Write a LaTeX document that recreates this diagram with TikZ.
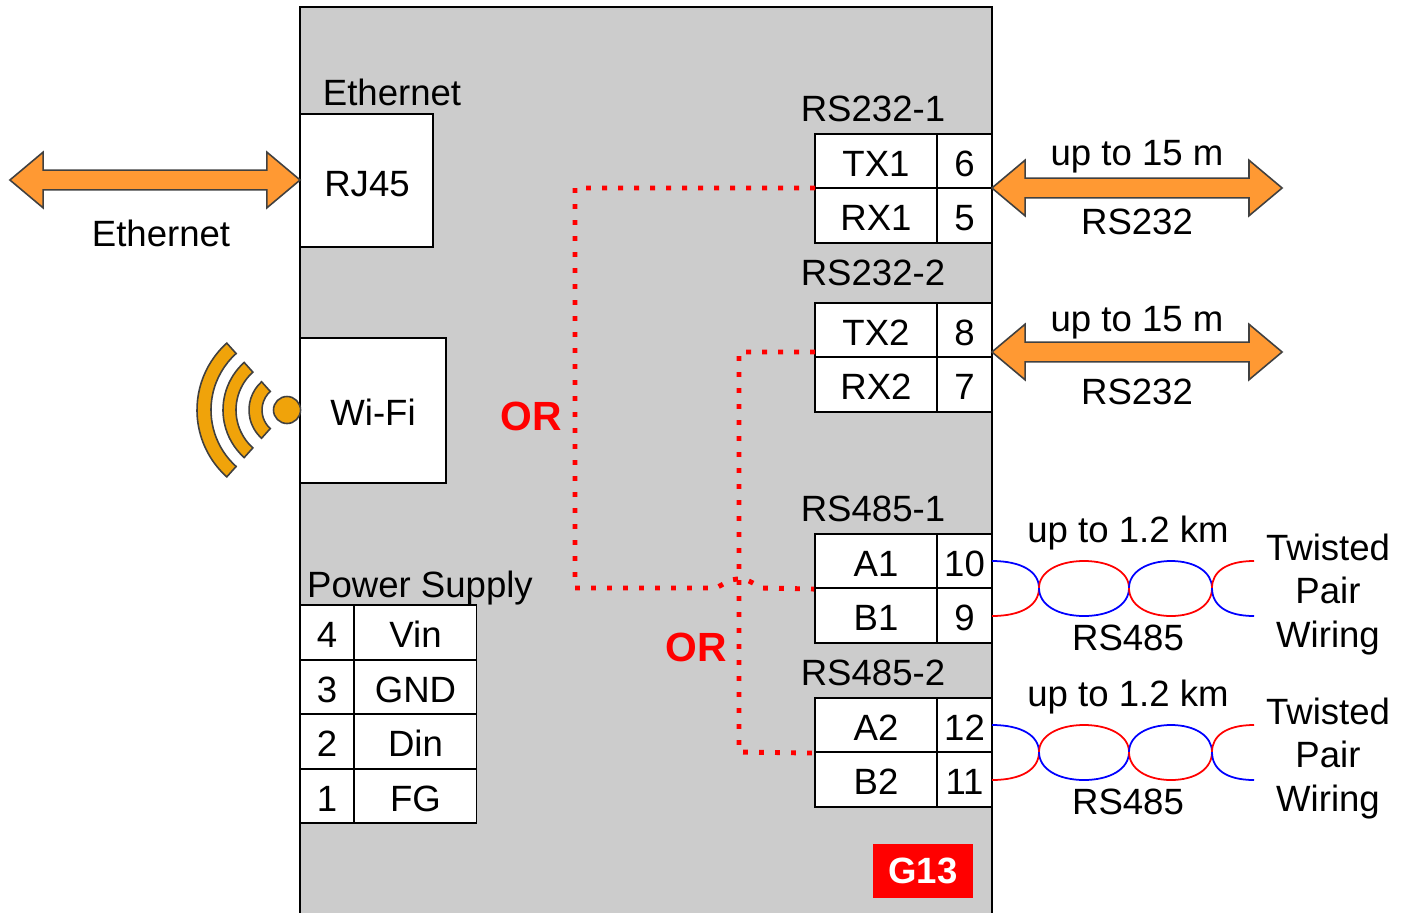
\documentclass[tikz,border=0pt]{standalone}
\usepackage{fontspec}
\setmainfont{Liberation Sans}
\usetikzlibrary{shapes.arrows}
\definecolor{panelgray}{HTML}{CCCCCC}
\definecolor{arroworange}{HTML}{FF9933}
\definecolor{wifiorange}{HTML}{F0A30A}

\begin{document}
\begin{tikzpicture}[x=0.01cm,y=-0.01cm,font=\fontsize{10.4}{12.5}\selectfont,line width=0.45pt]
    \tikzset{
      box/.style={draw, fill=white, inner sep=0pt, text height=0.30cm, text depth=0cm},
      wide/.style={box, minimum width=1.22cm, minimum height=0.545cm},
      narrow/.style={box, minimum width=0.55cm, minimum height=0.545cm},
      lbl/.style={inner sep=0pt, text height=0.26cm, text depth=0cm},
      wiring/.style={inner sep=0pt, align=center},
      orlabel/.style={inner sep=0pt, text=red, font=\fontsize{11.6}{14}\selectfont\bfseries},
      orline/.style={red, line width=1.4pt, dash pattern=on 1.4pt off 3.15pt},
      bigarrow/.style={
        draw=black!75, fill=arroworange, shape=double arrow, inner xsep=0pt, inner ysep=0.09cm,
        minimum height=2.9cm, minimum width=0.54cm, double arrow head extend=0.18cm,
        double arrow tip angle=80, double arrow head indent=0cm
      }
    }
    \clip (0,0) rectangle (1406,912);
    % Main panel
    \node[draw, line width=0.55pt, fill=panelgray, minimum width=6.92cm, minimum height=9.2cm] (panel) at (646,467) {};

    % Left column
    \node[box, minimum width=1.33cm, minimum height=1.33cm] (rj45) at (366.5,180.5) {};
    \node[lbl] (rj45text) at (367,183) {RJ45};
    \node[box, minimum width=1.46cm, minimum height=1.45cm] (wifi) at (373,410.5) {};
    \node[lbl] (wifitext) at (373,412) {Wi-Fi};
    \node[lbl] (ethtop)   at (392,92)  {Ethernet};
    \node[lbl] (ethbot)   at (161,233) {Ethernet};
    \node[lbl] (power)    at (420,584) {Power Supply};

    % Power connector
    \node[box, minimum width=0.54cm, minimum height=0.545cm] (pin4) at (327,632.5) {4};
    \node[box, minimum width=1.22cm, minimum height=0.545cm] (vin)  at (415.5,632.5) {Vin};
    \node[box, minimum width=0.54cm, minimum height=0.545cm] (pin3) at (327,687)   {3};
    \node[box, minimum width=1.22cm, minimum height=0.545cm] (gnd)  at (415.5,687)   {GND};
    \node[box, minimum width=0.54cm, minimum height=0.545cm] (pin2) at (327,741.5) {2};
    \node[box, minimum width=1.22cm, minimum height=0.545cm] (din)  at (415.5,741.5) {Din};
    \node[box, minimum width=0.54cm, minimum height=0.545cm] (pin1) at (327,796)   {1};
    \node[box, minimum width=1.22cm, minimum height=0.545cm] (fg)   at (415.5,796)   {FG};

    % Right column
    \node[lbl] (rs1) at (873,108) {RS232-1};
    \node[wide]   (tx1)  at (876,161)   {TX1};
    \node[narrow] (pin6) at (964.5,161) {6};
    \node[wide]   (rx1)  at (876,215.5)   {RX1};
    \node[narrow] (pin5) at (964.5,215.5) {5};

    \node[lbl] (rs2) at (873,272) {RS232-2};
    \node[wide]   (tx2)  at (876,330)   {TX2};
    \node[narrow] (pin8) at (964.5,330) {8};
    \node[wide]   (rx2)  at (876,384.5)   {RX2};
    \node[narrow] (pin7) at (964.5,384.5) {7};

    \node[lbl] (rs3) at (873,508) {RS485-1};
    \node[wide]   (a1)    at (876,561)   {A1};
    \node[narrow] (pin10) at (964.5,561) {10};
    \node[wide]   (b1)    at (876,615.5)   {B1};
    \node[narrow] (pin9)  at (964.5,615.5) {9};

    \node[lbl] (rs4) at (873,672) {RS485-2};
    \node[wide]   (a2)    at (876,725)   {A2};
    \node[narrow] (pin12) at (964.5,725) {12};
    \node[wide]   (b2)    at (876,779.5)   {B2};
    \node[narrow] (pin11) at (964.5,779.5) {11};

    \node[fill=red, text=white, inner sep=0pt, minimum width=1cm, minimum height=0.53cm,
      font=\fontsize{10.4}{12.5}\selectfont\bfseries] (badge) at (923,871) {G13};

    % Dotted routes
    \coordinate (tap1) at (815,188);
    \coordinate (tap2) at (815,352);
    \draw[orline] (tap1) -- (575,188) -- (575,588) -- (716,588) -- (727,582)
      .. controls (735,578) and (743,578) .. (751,582) -- (762,588) -- (a1.south west);
    \draw[orline] (tap2) -- (739,352) -- (739,752) -- (a2.south west);
    \node[orlabel] (or1) at (531,416) {OR};
    \node[orlabel] (or2) at (696,647) {OR};

    % Block arrows
    \node[bigarrow] (etharrow) at (155,180) {};
    \node[bigarrow] (sera)     at (1137,188) {};
    \node[bigarrow] (serb)     at (1137,352) {};

    \node[lbl] (up1)  at (1137,152) {up to 15 m};
    \node[lbl] (ser1) at (1137,221) {RS232};
    \node[lbl] (up2)  at (1137,318) {up to 15 m};
    \node[lbl] (ser2) at (1137,391) {RS232};

    % Wireless symbol
    \begin{scope}[shift={(287,410)},y=0.01cm]
      \foreach \ri/\ro in {25/38,51/64,76/90}
        \draw[draw=black!75, fill=wifiorange] (132:\ro) arc (132:228:\ro) -- (228:\ri) arc (228:132:\ri) -- cycle;
      \node[draw=black!75, fill=wifiorange, circle, minimum size=0.27cm, inner sep=0pt] (wave) at (0,0) {};
    \end{scope}

    % Twisted pairs
    \foreach \y in {0,164} {
      \begin{scope}[yshift=-\y*0.01cm, line width=0.5pt]
        \draw[blue] (992,561) .. controls (1022,561) and (1039,572) .. (1039,588);
        \draw[red]  (992,616) .. controls (1022,616) and (1039,605) .. (1039,588);
        \draw[red]  (1039,588) .. controls (1039,572) and (1058,561) .. (1084,561) .. controls (1110,561) and (1129,572) .. (1129,588);
        \draw[blue] (1039,588) .. controls (1039,605) and (1058,616) .. (1084,616) .. controls (1110,616) and (1129,605) .. (1129,588);
        \draw[blue] (1129,588) .. controls (1129,572) and (1147,561) .. (1171,561) .. controls (1195,561) and (1212,572) .. (1212,588);
        \draw[red]  (1129,588) .. controls (1129,605) and (1147,616) .. (1171,616) .. controls (1195,616) and (1212,605) .. (1212,588);
        \draw[red]  (1212,588) .. controls (1212,572) and (1226,561) .. (1254,561);
        \draw[blue] (1212,588) .. controls (1212,605) and (1226,616) .. (1254,616);
      \end{scope}
    }
    \node[lbl] (km1)  at (1128,529) {up to 1.2 km};
    \node[lbl] (bus1) at (1128,637) {RS485};
    \node[lbl] (km2)  at (1128,693) {up to 1.2 km};
    \node[lbl] (bus2) at (1128,801) {RS485};
    \node[wiring] (pair1) at (1328,594.5) {Twisted\\Pair\\Wiring};
    \node[wiring] (pair2) at (1328,758.5) {Twisted\\Pair\\Wiring};
  \end{tikzpicture}
\end{document}
